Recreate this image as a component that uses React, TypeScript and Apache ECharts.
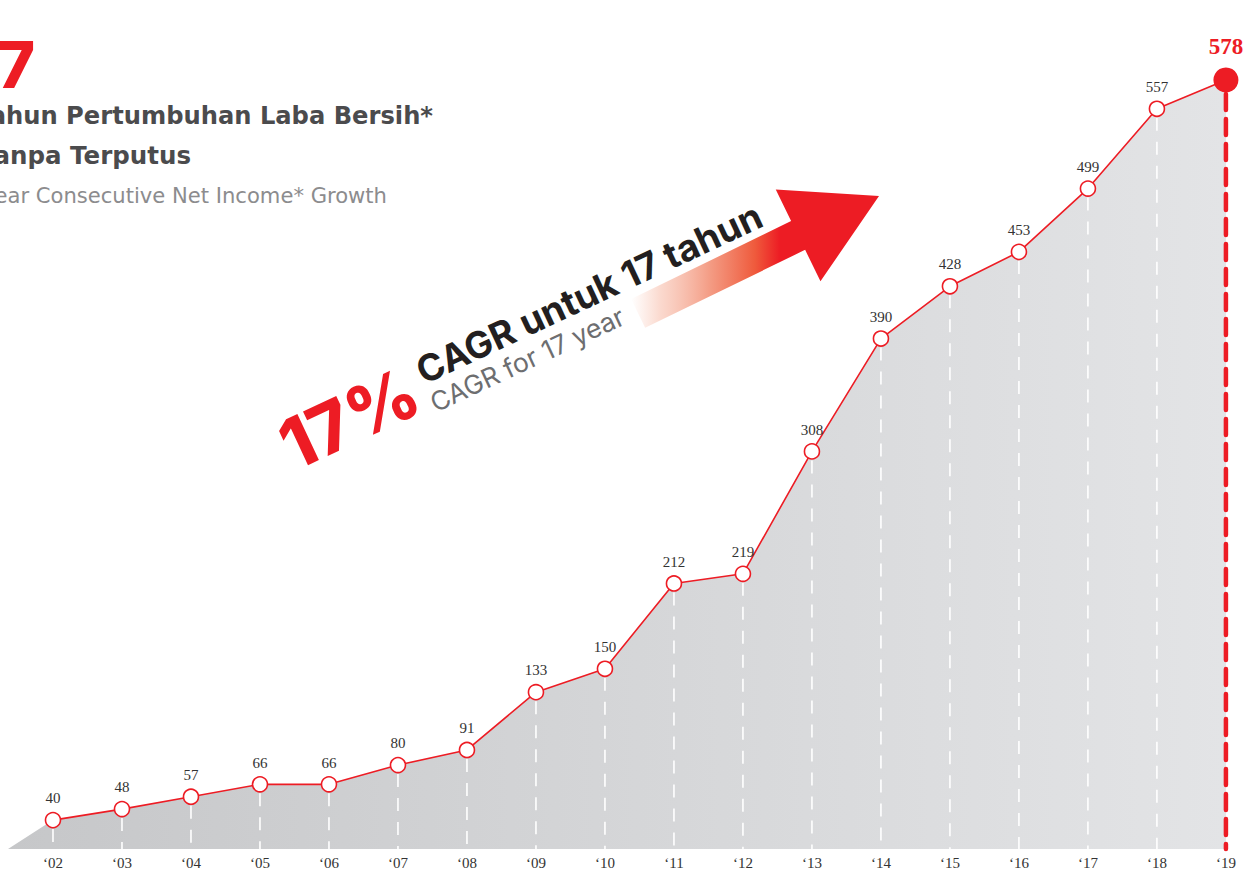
import React, { useEffect, useRef } from 'react';
import * as echarts from 'echarts';

// ---- data ----
const years = [2002, 2003, 2004, 2005, 2006, 2007, 2008, 2009, 2010, 2011, 2012, 2013, 2014, 2015, 2016, 2017, 2018, 2019];
const tickLabels = ['‘02', '‘03', '‘04', '‘05', '‘06', '‘07', '‘08', '‘09', '‘10', '‘11', '‘12', '‘13', '‘14', '‘15', '‘16', '‘17', '‘18', '‘19'];
const netIncome = [40, 48, 57, 66, 66, 80, 91, 133, 150, 212, 219, 308, 390, 428, 453, 499, 557, 578];
// lead-in point of the grey area (data coordinates)
const areaLeadIn = [2001.348, 19];

const X_MIN = 2001.348;
const X_MAX = 2019.32;
const Y_MIN = 19;
const Y_MAX = 607;
const RED = '#ed1c24';
const HEAD_FONT = 'Inter, "Open Sans", "Noto Sans", sans-serif';
const WIDE_FONT = '"DejaVu Sans", Verdana, sans-serif';
const SERIF = '"Liberation Serif", "DejaVu Serif", serif';

export default function App() {
  const ref = useRef<HTMLDivElement>(null);

  useEffect(() => {
    const chart = echarts.init(ref.current as HTMLDivElement, null, { renderer: 'svg' });
    const points = years.map((y, i) => [y, netIncome[i]]);
    const last = points.length - 1;
    const ang = (25 * Math.PI) / 180;

    // arrow geometry (pixels)
    const tip = [879, 196];
    const a2 = (26 * Math.PI) / 180;
    const dir = [Math.cos(a2), -Math.sin(a2)];
    const nrm = [-dir[1], dir[0]];
    const headLen = 90, headHalf = 51, shaftHalf = 16, shaftLen = 178;
    const bc = [tip[0] - headLen * dir[0], tip[1] - headLen * dir[1]];
    const tc = [bc[0] - shaftLen * dir[0], bc[1] - shaftLen * dir[1]];
    const P = (c: number[], k: number) => [c[0] + k * nrm[0], c[1] + k * nrm[1]];
    const arrowPts = [
      P(tc, -shaftHalf),
      P(bc, -shaftHalf),
      P(bc, -headHalf),
      tip,
      P(bc, headHalf),
      P(bc, shaftHalf),
      P(tc, shaftHalf),
    ];

    const option: any = {
      animation: false,
      backgroundColor: '#ffffff',
      grid: { left: 8, right: 0, top: 40, bottom: 21, containLabel: false },
      xAxis: {
        type: 'value',
        min: X_MIN,
        max: X_MAX,
        axisLine: { show: false },
        axisTick: { show: false },
        splitLine: { show: false },
        axisLabel: {
          customValues: years,
          margin: 6,
          fontFamily: SERIF,
          fontSize: 15,
          color: '#333333',
          formatter: (v: number) => {
            const idx = years.indexOf(Math.round(v));
            return idx >= 0 ? tickLabels[idx] : '';
          },
        },
      },
      yAxis: { type: 'value', min: Y_MIN, max: Y_MAX, show: false },
      series: [
        {
          type: 'line',
          z: 1,
          silent: true,
          data: [areaLeadIn, ...points],
          symbol: 'none',
          lineStyle: { width: 0, opacity: 0 },
          areaStyle: {
            origin: 'start',
            opacity: 1,
            color: new echarts.graphic.LinearGradient(0, 0, 1, 0, [
              { offset: 0, color: '#c6c7c9' },
              { offset: 1, color: '#e3e4e6' },
            ]),
          },
        },
        {
          type: 'custom',
          z: 2,
          silent: true,
          clip: false,
          data: points,
          renderItem: (params: any, api: any) => {
            const x = api.value(0);
            const v = api.value(1);
            const top = api.coord([x, v]);
            const bot = api.coord([x, Y_MIN]);
            const isLast = params.dataIndex === last;
            return {
              type: 'line',
              shape: { x1: top[0], y1: top[1] + (isLast ? 14 : 9), x2: top[0], y2: bot[1] },
              style: isLast
                ? { stroke: RED, lineWidth: 4.5, lineDash: [16, 9], lineCap: 'round' }
                : { stroke: '#ffffff', lineWidth: 1.6, lineDash: [13, 11] },
            };
          },
        },
        {
          type: 'line',
          z: 3,
          clip: false,
          data: points.map((p, i) =>
            i === last
              ? {
                  value: p,
                  symbolSize: 25,
                  itemStyle: { color: RED, borderColor: RED, borderWidth: 0 },
                  label: { color: RED, fontWeight: 'bold', fontSize: 23, distance: 9 },
                }
              : p
          ),
          symbol: 'circle',
          symbolSize: 15,
          lineStyle: { color: RED, width: 1.6 },
          itemStyle: { color: '#ffffff', borderColor: RED, borderWidth: 1.6 },
          label: {
            show: true,
            position: 'top',
            distance: 6,
            fontFamily: SERIF,
            fontSize: 15,
            color: '#333333',
            formatter: (p: any) => String(p.value[1]),
          },
        },
      ],
      graphic: [
        {
          type: 'polygon',
          z: 10,
          silent: true,
          shape: { points: arrowPts },
          style: {
            fill: new echarts.graphic.LinearGradient(0, 0, 1, 0, [
              { offset: 0, color: 'rgba(248,190,170,0)' },
              { offset: 0.12, color: 'rgba(247,185,165,0.55)' },
              { offset: 0.32, color: 'rgba(243,150,125,0.95)' },
              { offset: 0.5, color: '#ef5a3c' },
              { offset: 0.6, color: RED },
              { offset: 1, color: RED },
            ]),
          },
        },
        {
          type: 'text',
          z: 11,
          x: 35,
          y: 64,
          style: {
            text: '17',
            align: 'right',
            verticalAlign: 'middle',
            fill: RED,
            font: `800 64px ${HEAD_FONT}`,
          },
        },
        {
          type: 'text',
          z: 11,
          x: 433,
          y: 116,
          style: {
            text: 'Tahun Pertumbuhan Laba Bersih*',
            align: 'right',
            verticalAlign: 'middle',
            fill: '#4b4b4d',
            font: `bold 24.2px ${WIDE_FONT}`,
          },
        },
        {
          type: 'text',
          z: 11,
          x: 191,
          y: 155,
          style: {
            text: 'Tanpa Terputus',
            align: 'right',
            verticalAlign: 'middle',
            fill: '#4b4b4d',
            font: `bold 24.5px ${WIDE_FONT}`,
          },
        },
        {
          type: 'text',
          z: 11,
          x: 387,
          y: 195,
          style: {
            text: 'Year Consecutive Net Income* Growth',
            align: 'right',
            verticalAlign: 'middle',
            fill: '#8c8c8e',
            font: `400 21.1px ${WIDE_FONT}`,
          },
        },
        {
          type: 'text',
          z: 12,
          x: 349,
          y: 418,
          rotation: ang,
          style: {
            text: '17%',
            align: 'center',
            verticalAlign: 'middle',
            fill: RED,
            font: `800 70px ${HEAD_FONT}`,
          },
        },
        {
          type: 'text',
          z: 12,
          x: 589,
          y: 293,
          rotation: ang,
          style: {
            text: 'CAGR untuk 17 tahun',
            align: 'center',
            verticalAlign: 'middle',
            fill: '#231f20',
            font: `700 37px ${HEAD_FONT}`,
          },
        },
        {
          type: 'text',
          z: 12,
          x: 527,
          y: 359,
          rotation: ang,
          style: {
            text: 'CAGR for 17 year',
            align: 'center',
            verticalAlign: 'middle',
            fill: '#6d6e70',
            font: `400 26.5px ${HEAD_FONT}`,
          },
        },
      ],
    };

    chart.setOption(option);
    return () => chart.dispose();
  }, []);

  return (
    <div
      ref={ref}
      style={{ position: 'absolute', left: 0, top: 0, width: 1248, height: 870 }}
    />
  );
}
